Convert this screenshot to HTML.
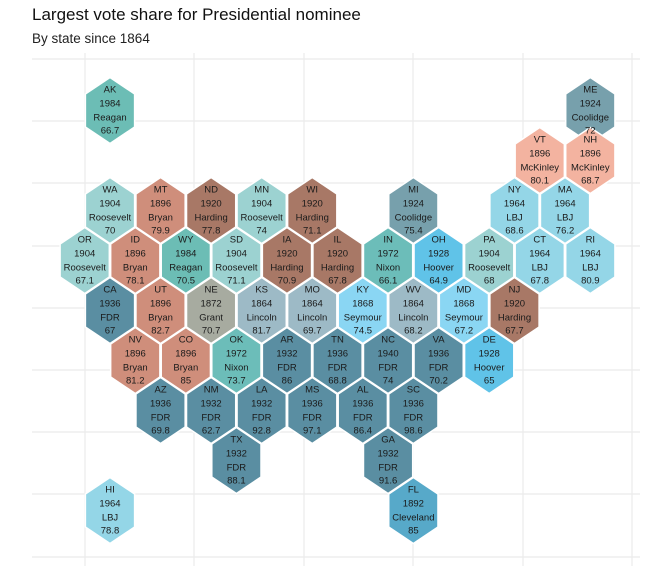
<!DOCTYPE html>
<html><head><meta charset="utf-8">
<style>
body{margin:0;background:#fff;font-family:"Liberation Sans",sans-serif;}
svg{display:block}
</style></head>
<body>
<svg id="chart" width="672" height="576">
<text x="32" y="20" font-size="17" fill="#111">Largest vote share for Presidential nominee</text>
<text x="32" y="43" font-size="13.5" fill="#222">By state since 1864</text>
<g id="grid"></g>
<g id="hexes"></g>
<g id="labels"></g>
</svg>
<script>
const states=["AK","ME","VT","NH","WA","MT","ND","MN","WI","MI","NY","MA","OR","ID","WY","SD","IA","IL","IN","OH","PA","CT","RI","CA","UT","NE","KS","MO","KY","WV","MD","NJ","NV","CO","OK","AR","TN","NC","VA","DE","AZ","NM","LA","MS","AL","SC","TX","GA","HI","FL"];
const cols=[0,19,17,19,0,2,4,6,8,12,16,18,-1,1,3,5,7,9,11,13,15,17,19,0,2,4,6,8,10,12,14,16,1,3,5,7,9,11,13,15,2,4,6,8,10,12,5,11,0,12];
const rows=[0,0,1,1,2,2,2,2,2,2,2,2,3,3,3,3,3,3,3,3,3,3,3,4,4,4,4,4,4,4,4,4,5,5,5,5,5,5,5,5,6,6,6,6,6,6,7,7,8,8];
const years=[1984,1924,1896,1896,1904,1896,1920,1904,1920,1924,1964,1964,1904,1896,1984,1904,1920,1920,1972,1928,1904,1964,1964,1936,1896,1872,1864,1864,1868,1864,1868,1920,1896,1896,1972,1932,1936,1940,1936,1928,1936,1932,1932,1936,1936,1936,1932,1932,1964,1892];
const nominees=["Reagan","Coolidge","McKinley","McKinley","Roosevelt","Bryan","Harding","Roosevelt","Harding","Coolidge","LBJ","LBJ","Roosevelt","Bryan","Reagan","Roosevelt","Harding","Harding","Nixon","Hoover","Roosevelt","LBJ","LBJ","FDR","Bryan","Grant","Lincoln","Lincoln","Seymour","Lincoln","Seymour","Harding","Bryan","Bryan","Nixon","FDR","FDR","FDR","FDR","Hoover","FDR","FDR","FDR","FDR","FDR","FDR","FDR","FDR","LBJ","Cleveland"];
const shares=["66.7","72","80.1","68.7","70","79.9","77.8","74","71.1","75.4","68.6","76.2","67.1","78.1","70.5","71.1","70.9","67.8","66.1","64.9","68","67.8","80.9","67","82.7","70.7","81.7","69.7","74.5","68.2","67.2","67.7","81.2","85","73.7","86","68.8","74","70.2","65","69.8","62.7","92.8","97.1","86.4","98.6","88.1","91.6","78.8","85"];
const palette={Reagan:"#6cbdb5",Coolidge:"#77a0ac",McKinley:"#f3b3a0",Roosevelt:"#9cd2d1",Bryan:"#cf8e7b",Harding:"#a87866",LBJ:"#94d6e7",Nixon:"#6cbdb9",Hoover:"#60c3e8",FDR:"#5a8ea2",Grant:"#a7aba0",Lincoln:"#9dbac6",Seymour:"#8ad6f3",Cleveland:"#57a9c9"};
const NS="http://www.w3.org/2000/svg";
const x0=110,dx=25.28,y0=110.5,dy=50,hw=24.6,hh=33;
const xPos=c=>x0+dx*c, yPos=r=>y0+dy*r;
const grid=document.getElementById('grid');
[59,121,183,246,308,370,432,494,557].forEach(y=>{const l=document.createElementNS(NS,'line');l.setAttribute('x1',32);l.setAttribute('x2',640);l.setAttribute('y1',y);l.setAttribute('y2',y);l.setAttribute('stroke','#ebebeb');l.setAttribute('stroke-width','1.2');


grid.appendChild(l);});
[85,194,304,413,523,632].forEach(x=>{const l=document.createElementNS(NS,'line');l.setAttribute('x1',x);l.setAttribute('x2',x);l.setAttribute('y1',53);l.setAttribute('y2',566);l.setAttribute('stroke','#ebebeb');l.setAttribute('stroke-width','1.2');


grid.appendChild(l);});
const g=document.getElementById('hexes');
const lg=document.getElementById('labels');
states.forEach((s,i)=>{
 const cx=xPos(cols[i]),cy=yPos(rows[i]);
 const p=document.createElementNS(NS,'polygon');
 p.setAttribute('points',[[0,-hh],[hw,-hh/2],[hw,hh/2],[0,hh],[-hw,hh/2],[-hw,-hh/2]].map(a=>(cx+a[0])+','+(cy+a[1])).join(' '));
 p.setAttribute('fill',palette[nominees[i]]);
 p.setAttribute('stroke','#fff');p.setAttribute('stroke-width','1.5');
 
 
 g.appendChild(p);
});
states.forEach((s,i)=>{
 const cx=xPos(cols[i]),cy=yPos(rows[i]);
 [s,years[i],nominees[i],shares[i]].forEach((t,j)=>{
  const tx=document.createElementNS(NS,'text');
  tx.setAttribute('x',cx);tx.setAttribute('y',cy+[-21.5,-7.5,6.5,19.5][j]+3.5);
  tx.setAttribute('text-anchor','middle');tx.setAttribute('font-size','9.5');tx.setAttribute('fill','#1a1a1a');
  tx.textContent=t;
  
  
  lg.appendChild(tx);
 });
});
</script>
</body></html>
